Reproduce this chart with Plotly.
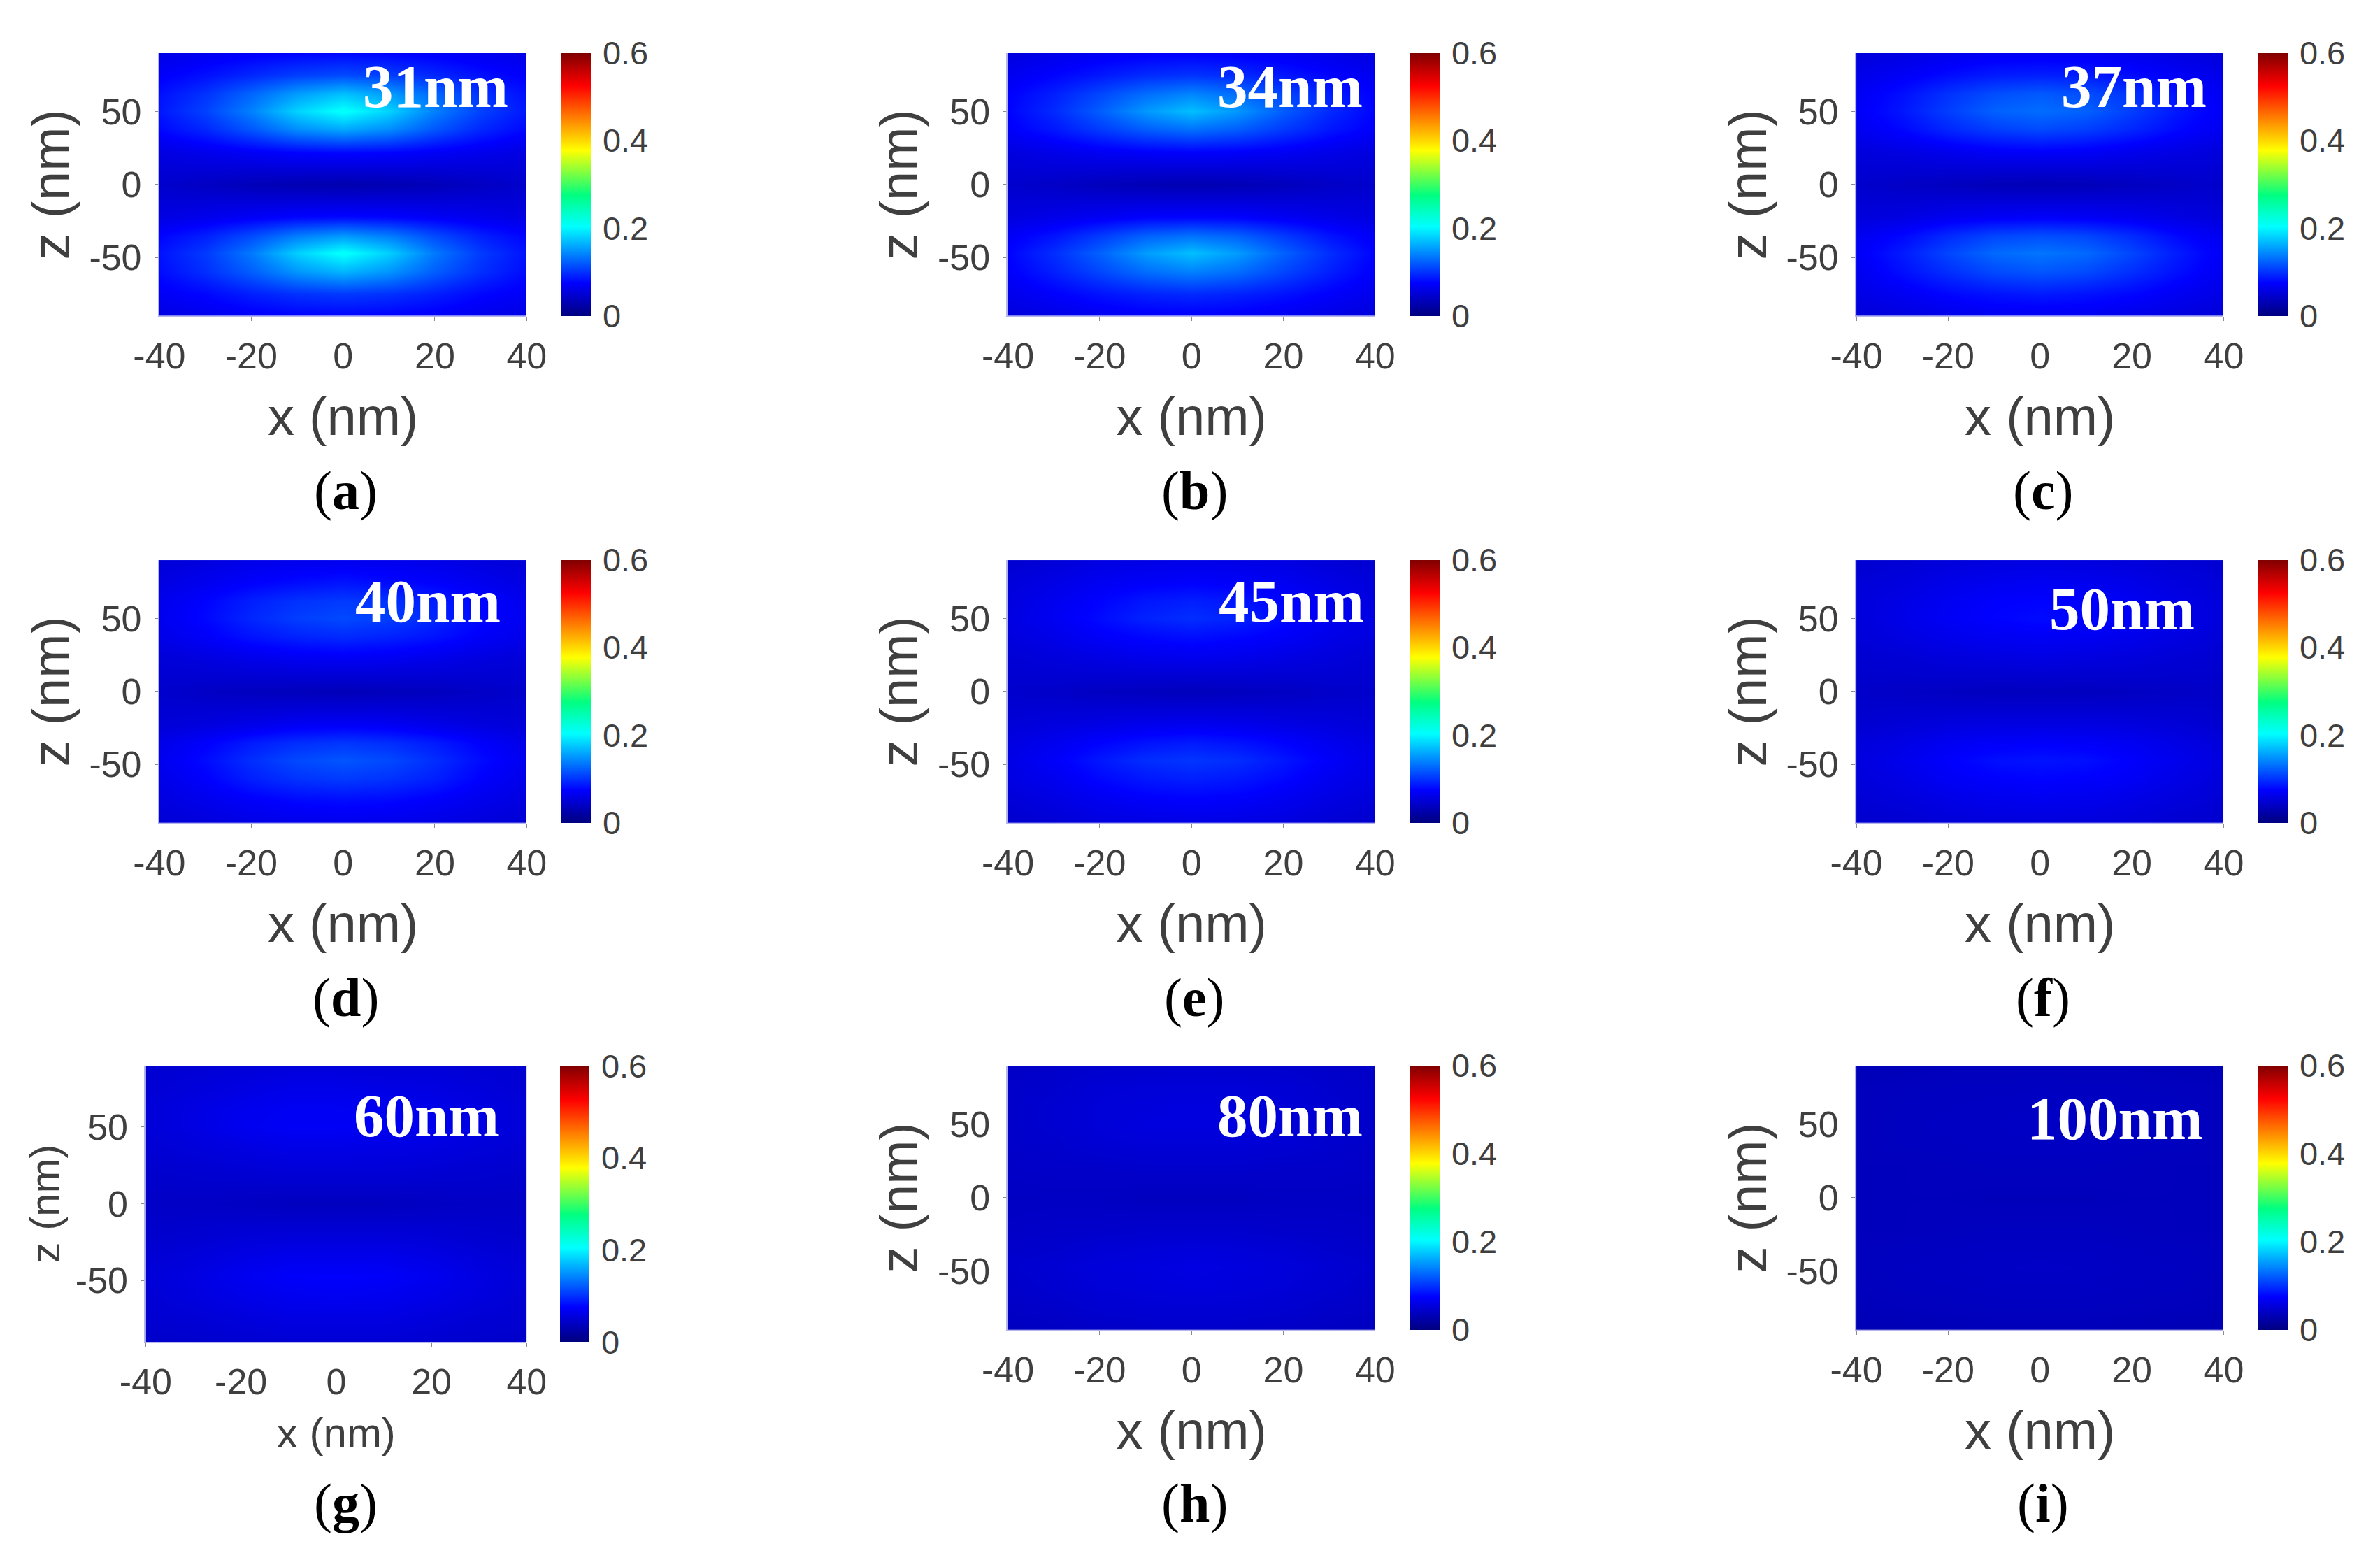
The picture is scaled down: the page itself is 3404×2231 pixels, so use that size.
import plotly.graph_objects as go

W, H = 3404, 2231
S = W / 1568

x_nm = [-40, -30, -20, -10, 0, 10, 20, 30, 40]
z_nm = [90, 75, 62, 50, 38, 22, 0, -22, -35, -47, -60, -75, -90]

field_a = [
 [.060,.066,.072,.076,.078,.076,.072,.066,.060],
 [.072,.082,.094,.106,.112,.106,.094,.082,.072],
 [.082,.100,.126,.154,.172,.154,.126,.100,.082],
 [.086,.108,.140,.182,.208,.182,.140,.108,.086],
 [.078,.094,.118,.146,.160,.146,.118,.094,.078],
 [.058,.064,.070,.076,.078,.076,.070,.064,.058],
 [.046,.040,.034,.030,.028,.030,.034,.040,.046],
 [.058,.064,.070,.076,.078,.076,.070,.064,.058],
 [.076,.090,.112,.138,.152,.138,.112,.090,.076],
 [.084,.104,.136,.180,.208,.180,.136,.104,.084],
 [.080,.098,.122,.150,.166,.150,.122,.098,.080],
 [.070,.078,.090,.100,.104,.100,.090,.078,.070],
 [.058,.064,.070,.074,.076,.074,.070,.064,.058],
]
field_b = [
 [.056,.062,.068,.072,.074,.072,.068,.062,.056],
 [.066,.076,.086,.096,.100,.096,.086,.076,.066],
 [.074,.090,.110,.130,.142,.130,.110,.090,.074],
 [.076,.096,.122,.152,.172,.152,.122,.096,.076],
 [.072,.086,.104,.122,.132,.122,.104,.086,.072],
 [.056,.062,.068,.072,.074,.072,.068,.062,.056],
 [.046,.042,.036,.032,.030,.032,.036,.042,.046],
 [.056,.062,.068,.074,.076,.074,.068,.062,.056],
 [.070,.084,.104,.124,.132,.124,.104,.084,.070],
 [.076,.098,.124,.154,.172,.154,.124,.098,.076],
 [.072,.090,.110,.130,.140,.130,.110,.090,.072],
 [.064,.074,.084,.092,.096,.092,.084,.074,.064],
 [.054,.060,.066,.070,.072,.070,.066,.060,.054],
]
field_c = [
 [.054,.058,.064,.068,.068,.068,.064,.058,.054],
 [.062,.070,.080,.088,.090,.088,.080,.070,.062],
 [.068,.082,.100,.114,.120,.114,.100,.082,.068],
 [.070,.086,.106,.124,.130,.124,.106,.086,.070],
 [.066,.078,.094,.106,.112,.106,.094,.078,.066],
 [.054,.058,.064,.070,.072,.070,.064,.058,.054],
 [.046,.042,.038,.034,.032,.034,.038,.042,.046],
 [.054,.058,.066,.070,.072,.070,.066,.058,.054],
 [.066,.078,.096,.110,.114,.110,.096,.078,.066],
 [.070,.088,.110,.128,.134,.128,.110,.088,.070],
 [.066,.082,.098,.112,.118,.112,.098,.082,.066],
 [.060,.068,.078,.084,.088,.084,.078,.068,.060],
 [.052,.056,.062,.066,.066,.066,.062,.056,.052],
]
field_d = [
 [.052,.056,.062,.064,.066,.064,.062,.056,.052],
 [.058,.066,.074,.080,.084,.080,.074,.066,.058],
 [.064,.076,.090,.100,.104,.100,.090,.076,.064],
 [.066,.078,.094,.106,.112,.106,.094,.078,.066],
 [.062,.072,.084,.092,.096,.092,.084,.072,.062],
 [.052,.056,.062,.066,.068,.066,.062,.056,.052],
 [.046,.042,.038,.036,.034,.036,.038,.042,.046],
 [.052,.056,.062,.068,.070,.068,.062,.056,.052],
 [.062,.074,.088,.098,.102,.098,.088,.074,.062],
 [.066,.080,.098,.112,.118,.112,.098,.080,.066],
 [.062,.074,.090,.100,.104,.100,.090,.074,.062],
 [.056,.064,.072,.078,.080,.078,.072,.064,.056],
 [.050,.054,.060,.062,.064,.062,.060,.054,.050],
]
field_e = [
 [.048,.052,.058,.060,.062,.060,.058,.052,.048],
 [.054,.060,.068,.072,.074,.072,.068,.060,.054],
 [.056,.066,.076,.086,.090,.086,.076,.066,.056],
 [.058,.068,.080,.092,.098,.092,.080,.068,.058],
 [.056,.062,.072,.078,.082,.078,.072,.062,.056],
 [.050,.054,.058,.062,.064,.062,.058,.054,.050],
 [.046,.044,.040,.038,.036,.038,.040,.044,.046],
 [.052,.056,.060,.064,.066,.064,.060,.056,.052],
 [.058,.066,.076,.084,.088,.084,.076,.066,.058],
 [.060,.072,.086,.098,.102,.098,.086,.072,.060],
 [.058,.066,.078,.086,.090,.086,.078,.066,.058],
 [.052,.058,.066,.072,.074,.072,.066,.058,.052],
 [.046,.050,.056,.058,.060,.058,.056,.050,.046],
]
field_f = [
 [.048,.050,.054,.056,.058,.056,.054,.050,.048],
 [.052,.056,.062,.066,.068,.066,.062,.056,.052],
 [.054,.060,.068,.074,.076,.074,.068,.060,.054],
 [.054,.062,.070,.076,.080,.076,.070,.062,.054],
 [.052,.058,.064,.068,.070,.068,.064,.058,.052],
 [.048,.050,.054,.056,.058,.056,.054,.050,.048],
 [.044,.042,.040,.038,.038,.038,.040,.042,.044],
 [.048,.052,.056,.058,.058,.058,.056,.052,.048],
 [.054,.060,.068,.072,.074,.072,.068,.060,.054],
 [.056,.064,.074,.082,.084,.082,.074,.064,.056],
 [.054,.060,.070,.074,.076,.074,.070,.060,.054],
 [.050,.054,.060,.064,.066,.064,.060,.054,.050],
 [.046,.048,.052,.054,.054,.054,.052,.048,.046],
]
field_g = [
 [.048,.050,.052,.054,.054,.052,.052,.050,.048],
 [.050,.054,.058,.062,.062,.060,.058,.054,.050],
 [.052,.058,.064,.068,.068,.066,.062,.058,.052],
 [.052,.058,.066,.070,.070,.068,.064,.058,.052],
 [.050,.054,.058,.062,.062,.060,.058,.054,.050],
 [.046,.048,.050,.052,.052,.052,.050,.048,.046],
 [.042,.042,.040,.038,.038,.038,.040,.042,.042],
 [.046,.048,.052,.054,.054,.054,.052,.048,.046],
 [.050,.054,.060,.064,.064,.064,.060,.054,.050],
 [.052,.058,.066,.072,.074,.072,.066,.058,.052],
 [.050,.056,.062,.066,.068,.066,.062,.056,.050],
 [.048,.050,.054,.058,.058,.058,.054,.050,.048],
 [.044,.046,.048,.050,.050,.050,.048,.046,.044],
]
field_h = [
 [.042,.044,.046,.046,.048,.046,.046,.044,.042],
 [.044,.046,.050,.052,.052,.052,.050,.046,.044],
 [.044,.048,.052,.054,.056,.054,.052,.048,.044],
 [.044,.048,.052,.056,.056,.056,.052,.048,.044],
 [.044,.046,.050,.052,.052,.052,.050,.046,.044],
 [.042,.044,.044,.046,.046,.046,.044,.044,.042],
 [.040,.040,.040,.038,.038,.038,.040,.040,.040],
 [.042,.044,.044,.046,.046,.046,.044,.044,.042],
 [.044,.046,.050,.052,.054,.052,.050,.046,.044],
 [.046,.050,.054,.056,.058,.056,.054,.050,.046],
 [.044,.048,.052,.054,.056,.054,.052,.048,.044],
 [.042,.044,.048,.050,.050,.050,.048,.044,.042],
 [.038,.040,.042,.044,.044,.044,.042,.040,.038],
]
field_i = [
 [.034,.034,.036,.036,.036,.036,.036,.034,.034],
 [.036,.037,.038,.038,.039,.038,.038,.037,.036],
 [.036,.038,.039,.040,.040,.040,.039,.038,.036],
 [.036,.038,.040,.040,.041,.040,.040,.038,.036],
 [.036,.038,.039,.040,.040,.040,.039,.038,.036],
 [.036,.036,.037,.038,.038,.038,.037,.036,.036],
 [.036,.036,.036,.035,.035,.035,.036,.036,.036],
 [.036,.036,.037,.038,.038,.038,.037,.036,.036],
 [.037,.038,.039,.040,.040,.040,.039,.038,.037],
 [.037,.039,.040,.041,.042,.041,.040,.039,.037],
 [.036,.038,.039,.040,.040,.040,.039,.038,.036],
 [.035,.036,.037,.038,.038,.038,.037,.036,.035],
 [.031,.032,.033,.034,.034,.034,.033,.032,.031],
]

fields = [field_a, field_b, field_c, field_d, field_e, field_f, field_g, field_h, field_i]
sizes = ["31nm", "34nm", "37nm", "40nm", "45nm", "50nm", "60nm", "80nm", "100nm"]
letters = list("abcdefghi")

x_ticks = [-40, -20, 0, 20, 40]
x_tick_labels = ["-40", "-20", "0", "20", "40"]
z_ticks = [-50, 0, 50]
z_tick_labels = ["-50", "0", "50"]
cb_ticks = [0, 0.2, 0.4, 0.6]
cb_labels = ["0", "0.2", "0.4", "0.6"]

# panel boxes in px of the shrunk reference: left, right, top, bottom, colourbar left
boxes = [
 (105, 347, 35, 208, 370), (664, 906, 35, 208, 929), (1223, 1465, 35, 208, 1488),
 (105, 347, 369, 542, 370), (664, 906, 369, 542, 929), (1223, 1465, 369, 542, 1488),
 (96, 347, 702, 884, 369), (664, 906, 702, 876, 929), (1223, 1465, 702, 876, 1488),
]
size_pos = [(287, 57), (850, 57), (1406, 57), (282, 396), (851, 396), (1398, 401),
            (281, 735), (850, 735), (1393, 737)]
letter_pos = [(228, 323), (787, 323), (1346, 323), (228, 657), (787, 657), (1346, 657),
              (228, 990), (787, 990), (1346, 990)]

jet = [[0, "#00007f"], [0.125, "#0000ff"], [0.34, "#00ffff"], [0.46, "#00ff80"],
       [0.63, "#ffff00"], [0.875, "#ff0000"], [1, "#800000"]]

TICK = "#3f3f3f"
SANS = "Liberation Sans"
SERIF = "Liberation Serif"

fig = go.Figure()
layout = dict(width=W, height=H, margin=dict(l=0, r=0, t=0, b=0, autoexpand=False),
              paper_bgcolor="white", plot_bgcolor="white", showlegend=False)
annotations = []

for k, (vals, box) in enumerate(zip(fields, boxes)):
    l, r, t, b, cb = box
    small = k == 6
    sfx = "" if k == 0 else str(k + 1)
    fig.add_trace(go.Heatmap(
        x=x_nm, y=z_nm, z=vals, zmin=0, zmax=0.6, zsmooth="best", colorscale=jet,
        xaxis="x" + sfx, yaxis="y" + sfx,
        colorbar=dict(
            x=cb * S / W, xanchor="left", xpad=0, thickness=42, thicknessmode="pixels",
            y=1 - b * S / H, yanchor="bottom", ypad=0, len=(b - t) * S, lenmode="pixels",
            outlinewidth=0, tickvals=cb_ticks, ticktext=cb_labels, ticks="outside",
            ticklen=8, tickwidth=1, tickcolor="rgba(0,0,0,0)",
            tickfont=dict(family=SANS, size=47, color=TICK)),
    ))
    title_size = 60 if small else 76
    layout["xaxis" + sfx] = dict(
        domain=[l * S / W, r * S / W], anchor="y" + sfx, range=[-40, 40],
        tickvals=x_ticks, ticktext=x_tick_labels, ticks="outside", ticklen=5, tickcolor="#8a8a9a",
        showgrid=False, zeroline=False, showline=True, linecolor="#b4b4ee", linewidth=2,
        ticklabelstandoff=6, tickfont=dict(family=SANS, size=52, color=TICK),
        title=dict(text="x (nm)", standoff=24 if small else 32,
                   font=dict(family=SANS, size=title_size, color=TICK)),
    )
    layout["yaxis" + sfx] = dict(
        domain=[1 - b * S / H, 1 - t * S / H], anchor="x" + sfx, range=[-90, 90],
        tickvals=z_ticks, ticktext=z_tick_labels, ticks="outside", ticklen=5, tickcolor="#8a8a9a",
        showgrid=False, zeroline=False, showline=True, linecolor="#b4b4ee", linewidth=2,
        ticklabelstandoff=8, tickfont=dict(family=SANS, size=52, color=TICK),
        title=dict(text="z (nm)", standoff=3,
                   font=dict(family=SANS, size=title_size, color=TICK)),
    )
    sx, sy = size_pos[k]
    annotations.append(dict(
        text="<b>%s</b>" % sizes[k], x=sx * S / W, y=1 - sy * S / H, xref="paper", yref="paper",
        xanchor="center", yanchor="middle", showarrow=False,
        font=dict(family=SERIF, size=87, color="white")))
    lx, ly = letter_pos[k]
    annotations.append(dict(
        text="(<b>%s</b>)" % letters[k], x=lx * S / W, y=1 - ly * S / H, xref="paper", yref="paper",
        xanchor="center", yanchor="middle", showarrow=False,
        font=dict(family=SERIF, size=78, color="black")))

layout["annotations"] = annotations
fig.update_layout(**layout)
fig.write_html("out.html", config={"displayModeBar": False},
               post_script="document.body.style.margin='0';")
